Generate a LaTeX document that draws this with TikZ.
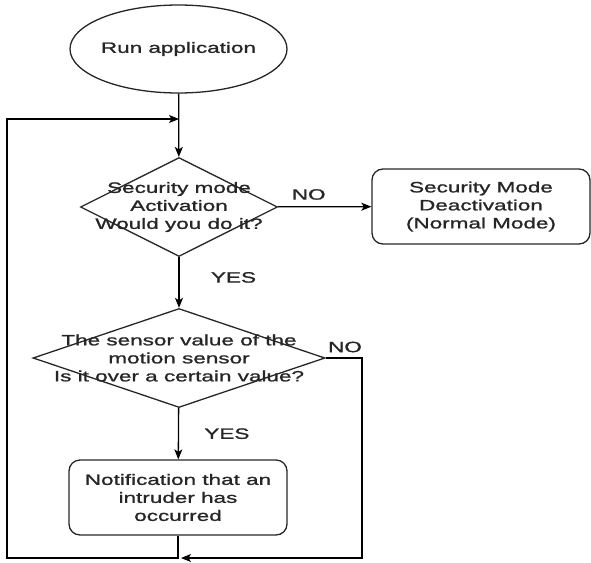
\documentclass[tikz,border=0pt]{standalone}
\usepackage{fontspec}
\newfontfamily\flowfont[FakeStretch=1.5,FakeBold=1.2]{Liberation Sans}
\usetikzlibrary{shapes.geometric,arrows.meta}
\begin{document}
\begin{tikzpicture}[x=1pt,y=-1pt,
  txt/.style={font=\flowfont\fontsize{15}{18}\selectfont, text=black!85, align=center},
  shape line/.style={draw=black!85, line width=1.3pt},
  terminal/.style={shape line, ellipse, minimum width=217pt, minimum height=88pt, inner sep=0pt},
  decision/.style={shape line, diamond, inner sep=0pt},
  process/.style={shape line, rectangle, rounded corners=11pt, minimum width=218pt, minimum height=75pt, inner sep=2pt, txt},
  flow/.style={draw=black, line width=1.3pt, -{Stealth[length=10pt,width=8pt,inset=2.5pt]}},
  answer/.style={txt}
]
\useasboundingbox (0,0) rectangle (591,562);

% shapes
\node[terminal, label={[txt]center:Run application}] (start) at (178.5,49) {};
\node[decision, minimum width=197pt, minimum height=99pt,
      label={[txt]center:{Security mode\\Activation\\Would you do it?}}] (act) at (179,207) {};
\node[process] (normal) at (481,206.5) {Security Mode\\Deactivation\\(Normal Mode)};
\node[decision, minimum width=292pt, minimum height=99pt,
      label={[txt]center:{The sensor value of the\\motion sensor\\Is it over a certain value?}}] (sensor) at (179,358) {};
\node[process] (notify) at (178,497.5) {Notification that an\\intruder has\\occurred};

% routing points
\coordinate (loopin) at (179,119);
\coordinate (merge) at (181,558);

% connectors
\draw[flow] (start) -- (act);
\draw[flow] (act) -- (normal) node[answer, pos=0.33, above=3pt] {NO};
\draw[flow] (act) -- (sensor) node[answer, pos=0.4, right=28pt] {YES};
\draw[flow] (sensor) -- (notify) node[answer, pos=0.5, right=22pt] {YES};
\draw[flow] (sensor.east) -- (362,358) |- (merge);
\draw[flow] (notify.south) |- (7,558) |- (loopin);

% branch label
\node[answer] (no2) at (345,347) {NO};
\end{tikzpicture}
\end{document}
